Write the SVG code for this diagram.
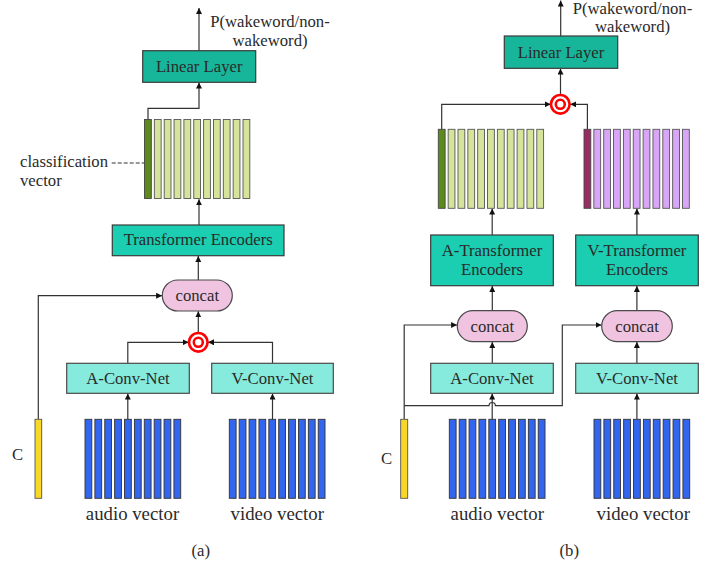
<svg xmlns="http://www.w3.org/2000/svg" width="721" height="567" viewBox="0 0 721 567">
<defs>
<marker id="ah" markerWidth="6" markerHeight="6" refX="6" refY="3" orient="auto" markerUnits="userSpaceOnUse">
<path d="M0,0 L6,3 L0,6 Z" fill="#111"/>
</marker>
<style>
text{font-family:"Liberation Serif","Times New Roman",serif;fill:#2a2a2a;font-size:16.7px;text-anchor:middle}
.big{font-size:18.8px}
.lbl{text-anchor:start}
.lin{fill:#17b69b;stroke:#3a3a3a;stroke-width:1.2}
.tr{fill:#1bcdb1;stroke:#3a3a3a;stroke-width:1.2}
.cv{fill:#86ebdc;stroke:#4a4a4a;stroke-width:1.2}
.cc{fill:#f0c4e0;stroke:#4a4a4a;stroke-width:1.2}
.gl{fill:#d6e39a;stroke:#555;stroke-width:0.9}
.gd{fill:#5d8a1c;stroke:#444;stroke-width:0.9}
.pl{fill:#d9a6f7;stroke:#555;stroke-width:0.9}
.pd{fill:#972d62;stroke:#444;stroke-width:0.9}
.bl{fill:#3366ee;stroke:#333;stroke-width:0.9}
.yl{fill:#f7d826;stroke:#555;stroke-width:0.9}
.ln{fill:none;stroke:#333;stroke-width:1.2}
.ar{marker-end:url(#ah)}
.ring{fill:#fff;stroke:#f00;stroke-width:2.6}
</style>
<g id="gbar"><rect class="gl" x="0" y="0" width="6.8" height="79"/></g>
<g id="bbar"><rect class="bl" x="0" y="0" width="6.8" height="79"/></g>
<g id="pbar"><rect class="pl" x="0" y="0" width="6.8" height="79"/></g>
<g id="gstack">
<rect class="gd" x="0" y="0" width="6.8" height="79"/>
<use href="#gbar" x="9.85"/><use href="#gbar" x="19.7"/><use href="#gbar" x="29.55"/><use href="#gbar" x="39.4"/><use href="#gbar" x="49.25"/><use href="#gbar" x="59.1"/><use href="#gbar" x="68.95"/><use href="#gbar" x="78.8"/><use href="#gbar" x="88.65"/><use href="#gbar" x="98.5"/>
</g>
<g id="bstack">
<use href="#bbar" x="0"/><use href="#bbar" x="9.88"/><use href="#bbar" x="19.76"/><use href="#bbar" x="29.64"/><use href="#bbar" x="39.52"/><use href="#bbar" x="49.4"/><use href="#bbar" x="59.28"/><use href="#bbar" x="69.16"/><use href="#bbar" x="79.04"/><use href="#bbar" x="88.92"/>
</g>
</defs>
<rect width="721" height="567" fill="#fff"/>

<!-- connectors -->
<g id="connectors">
<!-- (a) -->
<path class="ln ar" d="M199,50.7 V8"/>
<path class="ln ar" d="M148,119 V108.3 H199 V82.6"/>
<path class="ln ar" d="M199,225 V199.3"/>
<path class="ln ar" d="M198.3,280 V256"/>
<path class="ln ar" d="M198.3,332.8 V311.3"/>
<path class="ln ar" d="M127.8,363.3 V342.3 H188.6"/>
<path class="ln ar" d="M272.5,363.3 V342.3 H208"/>
<path class="ln ar" d="M127.8,419.3 V393.6"/>
<path class="ln ar" d="M272.5,419.3 V393.6"/>
<path class="ln ar" d="M38.3,419.3 V295.7 H162.1"/>
<path d="M111.7,163 H144" fill="none" stroke="#333" stroke-width="1.2" stroke-dasharray="4,2"/>
<!-- (b) -->
<path class="ln ar" d="M560.7,36 V0.5"/>
<path class="ln ar" d="M560.5,94.8 V68.6"/>
<path class="ln ar" d="M441.7,129.3 V104.3 H550.7"/>
<path class="ln ar" d="M587.4,129.3 V104.3 H570.2"/>
<path class="ln ar" d="M492.2,235 V208.6"/>
<path class="ln ar" d="M636.9,235 V208.6"/>
<path class="ln ar" d="M492.3,310.7 V286"/>
<path class="ln ar" d="M636.9,310.7 V286"/>
<path class="ln ar" d="M492.3,363.3 V342"/>
<path class="ln ar" d="M636.9,363.3 V342"/>
<path class="ln ar" d="M492.2,419.3 V393.6"/>
<path class="ln ar" d="M636.9,419.3 V393.6"/>
<path class="ln ar" d="M404.2,419.3 V325 H457.1"/>
<path class="ln ar" d="M404.2,405.7 H489 A3.2,3.2 0 0 1 495.4,405.7 H562.3 V325 H601.5"/>
</g>

<!-- (a) nodes -->
<g id="a-out"><text x="270" y="26.7">P(wakeword/non-</text><text x="270" y="45.7">wakeword)</text></g>
<g id="a-linear"><rect class="lin" x="142.7" y="50.7" width="113" height="31.6"/><text x="199.2" y="72.3">Linear Layer</text></g>
<g id="a-tokens"><use href="#gstack" x="144.5" y="119.5"/></g>
<g id="a-cls-label"><text class="lbl" x="20" y="166.5">classification</text><text class="lbl" x="20" y="185.7">vector</text></g>
<g id="a-transformer"><rect class="tr" x="112.3" y="225" width="171.7" height="30.7"/><text x="198.2" y="245.3">Transformer Encoders</text></g>
<g id="a-concat"><rect class="cc" x="162.3" y="280" width="70" height="31" rx="15.5"/><text x="197.3" y="301">concat</text></g>
<g id="a-fuse"><circle class="ring" cx="198.3" cy="342.3" r="9.3"/><circle class="ring" cx="198.3" cy="342.3" r="4.5" stroke-width="2.2"/></g>
<g id="a-aconv"><rect class="cv" x="66.7" y="363.3" width="122.6" height="30"/><text x="128" y="384">A-Conv-Net</text></g>
<g id="a-vconv"><rect class="cv" x="211.7" y="363.3" width="121.6" height="30"/><text x="272.5" y="384">V-Conv-Net</text></g>
<g id="a-c"><rect class="yl" x="35" y="419.3" width="6.7" height="79"/><text class="lbl" x="12" y="460">C</text></g>
<g id="a-audio"><use href="#bstack" x="85" y="419.3"/><text class="big" x="132.5" y="520">audio vector</text></g>
<g id="a-video"><use href="#bstack" x="229.3" y="419.3"/><text class="big" x="277.3" y="520">video vector</text></g>
<g id="a-caption"><text x="200.7" y="556">(a)</text></g>

<!-- (b) nodes -->
<g id="b-out"><text x="632.5" y="14">P(wakeword/non-</text><text x="632.5" y="32">wakeword)</text></g>
<g id="b-linear"><rect class="lin" x="504.3" y="36" width="113.4" height="32.3"/><text x="561" y="58.3">Linear Layer</text></g>
<g id="b-fuse"><circle class="ring" cx="560.3" cy="104.3" r="9.3"/><circle class="ring" cx="560.3" cy="104.3" r="4.5" stroke-width="2.2"/></g>
<g id="b-atokens"><use href="#gstack" x="438.3" y="129.3"/></g>
<g id="b-vtokens">
<rect class="pd" x="584" y="129.3" width="6.8" height="79"/>
<use href="#pbar" x="593.85" y="129.3"/><use href="#pbar" x="603.7" y="129.3"/><use href="#pbar" x="613.55" y="129.3"/><use href="#pbar" x="623.4" y="129.3"/><use href="#pbar" x="633.25" y="129.3"/><use href="#pbar" x="643.1" y="129.3"/><use href="#pbar" x="652.95" y="129.3"/><use href="#pbar" x="662.8" y="129.3"/><use href="#pbar" x="672.65" y="129.3"/><use href="#pbar" x="682.5" y="129.3"/>
</g>
<g id="b-atrans"><rect class="tr" x="430.7" y="235" width="122.6" height="50.7"/><text x="492" y="256">A-Transformer</text><text x="492" y="275.3">Encoders</text></g>
<g id="b-vtrans"><rect class="tr" x="575.7" y="235" width="122.6" height="50.7"/><text x="637" y="256">V-Transformer</text><text x="637" y="275.3">Encoders</text></g>
<g id="b-aconcat"><rect class="cc" x="457.3" y="310.7" width="70" height="31" rx="15.5"/><text x="492.3" y="331.5">concat</text></g>
<g id="b-vconcat"><rect class="cc" x="601.7" y="310.7" width="70.6" height="31" rx="15.5"/><text x="637" y="331.5">concat</text></g>
<g id="b-aconv"><rect class="cv" x="430.7" y="363.3" width="122.6" height="30"/><text x="492" y="384">A-Conv-Net</text></g>
<g id="b-vconv"><rect class="cv" x="575.7" y="363.3" width="122.6" height="30"/><text x="637" y="384">V-Conv-Net</text></g>
<g id="b-c"><rect class="yl" x="400.7" y="419.3" width="7" height="79"/><text class="lbl" x="381" y="464">C</text></g>
<g id="b-audio"><use href="#bstack" x="449.3" y="419.3"/><text class="big" x="497.3" y="520">audio vector</text></g>
<g id="b-video"><use href="#bstack" x="594" y="419.3"/><text class="big" x="643.3" y="520">video vector</text></g>
<g id="b-caption"><text x="569.3" y="556">(b)</text></g>
</svg>
